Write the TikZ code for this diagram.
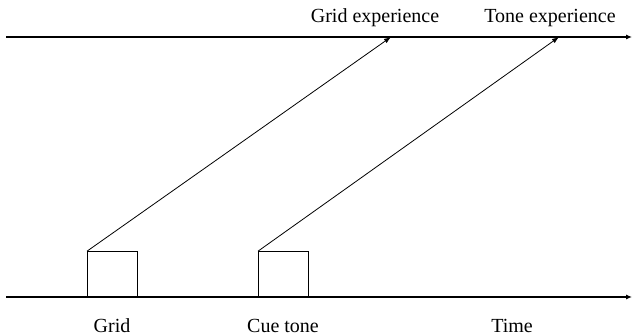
\documentclass[tikz,border=0pt]{standalone}
\usepackage{fontspec}
\setmainfont{Liberation Serif}
\usetikzlibrary{arrows.meta}
\begin{document}
\begin{tikzpicture}[x=1pt,y=-1pt,
  axis/.style={line width=1.1pt,-{Latex[length=6pt,width=5pt]}},
  evbox/.style={draw,line width=0.8pt,minimum width=50pt,minimum height=45pt,inner sep=0pt,anchor=south west},
  link/.style={line width=0.8pt,-{Latex[length=7pt,width=5pt]}},
  lbl/.style={font=\fontsize{20}{24}\selectfont,inner sep=0pt}]
\useasboundingbox (0,0) rectangle (632,336);
\coordinate (tl) at (6,37);
\coordinate (tr) at (632,37);
\coordinate (bl) at (6,297);
\coordinate (br) at (632,297);
\draw[axis] (tl) -- (tr);
\draw[axis] (bl) -- (br);
\node[evbox] (grid) at (87,297) {};
\node[evbox] (cue) at (258,297) {};
\coordinate (ge) at (391,37);
\coordinate (te) at (559,37);
\draw[link] (grid.north west) -- (ge);
\draw[link] (cue.north west) -- (te);
\node[lbl] (gel) at (375,18) {Grid experience};
\node[lbl] (tel) at (550,18) {Tone experience};
\node[lbl] (gl) at (112,326) {Grid};
\node[lbl] (cl) at (283,326) {Cue tone};
\node[lbl] (tml) at (512,326) {Time};
\end{tikzpicture}
\end{document}
